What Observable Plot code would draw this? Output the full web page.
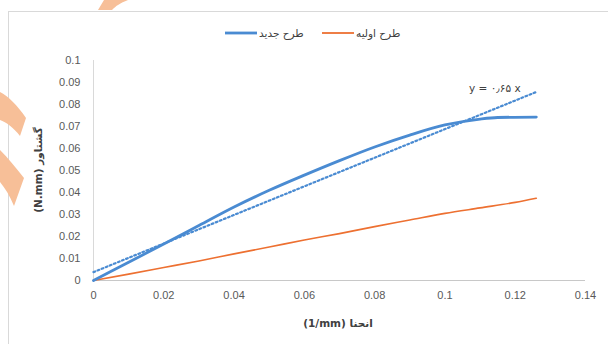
<!DOCTYPE html>
<html>
<head>
<meta charset="utf-8">
<script src="https://cdn.jsdelivr.net/npm/d3@7"></script>
<script src="https://cdn.jsdelivr.net/npm/@observablehq/plot@0.6"></script>
<style>
  html, body { margin: 0; padding: 0; background: #fff; }
  #wrap { position: relative; width: 608px; height: 344px; overflow: hidden; }
  #legend { position: absolute; top: 25px; left: 0; width: 608px; height: 16px; font-family: Tahoma, "DejaVu Sans", sans-serif; font-size: 10.5px; color: #404040; }
  .item { position: absolute; top: 0; height: 16px; display: flex; align-items: center; gap: 2px; }
</style>
</head>
<body>
<div id="wrap">
  <div id="chart"></div>
  <div id="legend"></div>
</div>
<script>
// ---- data ----
const curvatureNew = [0, 0.01, 0.02, 0.03, 0.04, 0.05, 0.06, 0.07, 0.08, 0.09, 0.10, 0.11, 0.115, 0.126];
const torqueNew    = [0, 0.0083, 0.0166, 0.0250, 0.0334, 0.0410, 0.0479, 0.0545, 0.0607, 0.0661, 0.0707, 0.0734, 0.0741, 0.0743];

const curvatureOld = [0, 0.01, 0.02, 0.03, 0.04, 0.05, 0.06, 0.07, 0.08, 0.09, 0.10, 0.11, 0.12, 0.126];
const torqueOld    = [0, 0.0029, 0.0059, 0.0089, 0.0121, 0.0152, 0.0184, 0.0213, 0.0245, 0.0275, 0.0305, 0.0330, 0.0355, 0.0374];

const trendX = [0, 0.126];
const trendY = [0.0038, 0.0857];
const trendLabel = "y = ۰٫۶۵ x";

const seriesNames = ["طرح جدید", "طرح اولیه"];
const seriesColors = ["#4a8bd2", "#ed7031"];

const xTicks = [0, 0.02, 0.04, 0.06, 0.08, 0.1, 0.12, 0.14];
const xTickLabels = ["0", "0.02", "0.04", "0.06", "0.08", "0.1", "0.12", "0.14"];
const yTicks = [0, 0.01, 0.02, 0.03, 0.04, 0.05, 0.06, 0.07, 0.08, 0.09, 0.1];
const yTickLabels = ["0", "0.01", "0.02", "0.03", "0.04", "0.05", "0.06", "0.07", "0.08", "0.09", "0.1"];

const xTitle = "(1/mm) انحنا";
const yTitle = "(N.mm) گشتاور";

// ---- build ----
const newData = curvatureNew.map((x, i) => ({x, y: torqueNew[i]}));
const oldData = curvatureOld.map((x, i) => ({x, y: torqueOld[i]}));
const trendData = trendX.map((x, i) => ({x, y: trendY[i]}));

const tickFont = '"Liberation Sans", Arial, sans-serif';

const plot = Plot.plot({
  width: 608,
  height: 344,
  marginLeft: 93,
  marginRight: 23,
  marginTop: 60,
  marginBottom: 64,
  style: { fontFamily: tickFont, fontSize: "11px", color: "#595959", background: "transparent", overflow: "visible" },
  x: { domain: [0, 0.14] },
  y: { domain: [0, 0.1] },
  marks: [
    Plot.ruleY([0], { stroke: "#c8c8c8", strokeWidth: 1 }),
    Plot.ruleX([0], { stroke: "#d9d9d9", strokeWidth: 1 }),
    Plot.axisX({ ticks: xTicks, tickFormat: (d, i) => xTickLabels[i], tickSize: 0, tickPadding: 11, label: null, fill: "#595959" }),
    Plot.axisY({ ticks: yTicks, tickFormat: (d, i) => yTickLabels[i], tickSize: 0, tickPadding: 13, label: null, fill: "#595959" }),
    Plot.line(oldData, { x: "x", y: "y", stroke: seriesColors[1], strokeWidth: 1.6, curve: "monotone-x" }),
    Plot.line(newData, { x: "x", y: "y", stroke: seriesColors[0], strokeWidth: 2.8, curve: "monotone-x" }),
    Plot.line(trendData, { x: "x", y: "y", stroke: seriesColors[0], strokeWidth: 2.2, strokeDasharray: "1.8,2.6" }),
    Plot.text([trendLabel], { x: () => 0.1142, y: () => 0.0873, text: d => d, fontSize: 10.5, fill: "#404040", fontFamily: 'Tahoma, "DejaVu Sans", sans-serif' })
  ]
});

document.getElementById("chart").appendChild(plot);

const svg = d3.select(plot);
// chart frame
svg.insert("rect", ":first-child")
  .attr("x", 8.5).attr("y", 11.5).attr("width", 620).attr("height", 340)
  .attr("fill", "#fff").attr("stroke", "#d9d9d9");

// axis titles
svg.append("text")
  .attr("x", 338).attr("y", 327)
  .attr("text-anchor", "middle")
  .attr("font-family", 'Tahoma, "DejaVu Sans", sans-serif')
  .attr("font-size", 10.5).attr("font-weight", "bold").attr("fill", "#404040")
  .text(xTitle);
svg.append("text")
  .attr("transform", "translate(42,170) rotate(-90)")
  .attr("text-anchor", "middle")
  .attr("font-family", 'Tahoma, "DejaVu Sans", sans-serif')
  .attr("font-size", 10.5).attr("font-weight", "bold").attr("fill", "#404040")
  .text(yTitle);

// decorative orange watermark shapes
const deco = svg.append("g").attr("fill", "#f7bf98");
deco.append("path").attr("d", "M0,92 C8,96 18,106 26,118 L20,136 C14,128 6,122 0,120 Z");
deco.append("path").attr("d", "M0,150 C8,158 16,168 24,178 L14,206 C10,196 5,188 0,182 Z");
deco.append("path").attr("d", "M98,10 L104,0 L128,0 C120,3 116,6 112,10 Z");

// legend
const legend = document.getElementById("legend");
const legendPos = [{left: 225}, {left: 322}];
seriesNames.forEach((name, i) => {
  const it = document.createElement("div");
  it.className = "item";
  it.style.left = legendPos[i].left + "px";
  const sw = document.createElementNS("http://www.w3.org/2000/svg", "svg");
  sw.setAttribute("width", 32); sw.setAttribute("height", 6);
  const ln = document.createElementNS("http://www.w3.org/2000/svg", "line");
  ln.setAttribute("x1", 0); ln.setAttribute("x2", 32); ln.setAttribute("y1", 3); ln.setAttribute("y2", 3);
  ln.setAttribute("stroke", seriesColors[i]); ln.setAttribute("stroke-width", i === 0 ? 2.8 : 1.8);
  sw.appendChild(ln);
  const tx = document.createElement("span");
  tx.textContent = name;
  tx.setAttribute("dir", "rtl");
  it.appendChild(sw); it.appendChild(tx);
  legend.appendChild(it);
});
</script>
</body>
</html>
